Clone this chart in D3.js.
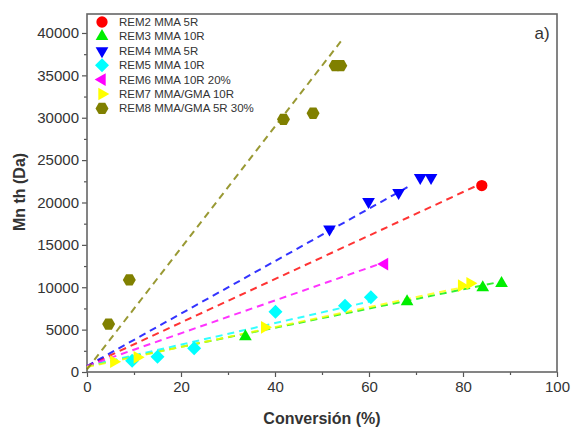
<!DOCTYPE html>
<html>
<head>
<meta charset="utf-8">
<script src="https://cdn.jsdelivr.net/npm/d3@7"></script>
<style>
  body { margin: 0; background: #fff; }
  text { font-family: "Liberation Sans", Arial, sans-serif; fill: #333; }
</style>
</head>
<body>
<svg id="chart" width="573" height="428"></svg>
<script>
// series names, colours
var names = ["REM2 MMA 5R", "REM3 MMA 10R", "REM4 MMA 5R", "REM5 MMA 10R",
  "REM6 MMA 10R 20%", "REM7 MMA/GMA 10R", "REM8 MMA/GMA 5R 30%"];
var colors = ["#ff0000", "#00ee00", "#0000ff", "#00ffff", "#ff00ff", "#ffff00", "#808000"];
var shapes = ["circle", "up", "down", "diamond", "left", "right", "hex"];

// measured points (conversion %, Mn th)
var rem2 = [[84, 22000]];
var rem3 = [[33.7, 4170], [68.1, 8300], [84.2, 9950], [88.2, 10460]];
var rem4 = [[51.6, 16840], [59.9, 20100], [66.3, 21160], [70.9, 22930], [73.2, 22930]];
var rem5 = [[9.6, 1330], [15.0, 1800], [22.8, 2790], [40.1, 7120], [54.9, 7830], [60.4, 8810]];
var rem6 = [[63.3, 12740]];
var rem7 = [[5.7, 1220], [10.7, 1730], [37.8, 5270], [79.7, 10190], [81.5, 10460]];
var rem8 = [[4.6, 5660], [9.0, 10860], [41.8, 29820], [48.1, 30530], [52.8, 36140], [54.0, 36140]];
var points = [rem2, rem3, rem4, rem5, rem6, rem7, rem8];

// linear fit lines: start and end
var fits = [
  [[0, 700], [83, 22000]],
  [[0, 700], [87, 10540]],
  [[0, 700], [69, 22060]],
  [[0, 700], [60, 8300]],
  [[0, 700], [62, 12700]],
  [[0, 600], [80, 10000]],
  [[0, 300], [54, 39000]]
];

var xTicks = [0, 20, 40, 60, 80, 100];
var yTicks = [0, 5000, 10000, 15000, 20000, 25000, 30000, 35000, 40000];

var svg = d3.select("#chart");
var mLeft = 87, mRight = 557, mTop = 14, mBottom = 372;

var x = d3.scaleLinear().domain([0, 100]).range([mLeft, mRight]);
var y = d3.scaleLinear().domain([0, 42240]).range([mBottom, mTop]);

// axes
var xAxis = svg.append("g").attr("transform", "translate(0," + mBottom + ")");
xAxis.call(d3.axisBottom(x).tickValues(d3.range(10, 100, 20)).tickSize(3).tickFormat(""));
xAxis.append("g").call(d3.axisBottom(x).tickValues(xTicks).tickSize(5).tickPadding(4));
var yAxis = svg.append("g").attr("transform", "translate(" + mLeft + ",0)");
yAxis.call(d3.axisLeft(y).tickValues(d3.range(2500, 42240, 5000)).tickSize(3).tickFormat(""));
yAxis.append("g").call(d3.axisLeft(y).tickValues(yTicks).tickSize(5).tickPadding(3).tickFormat(d3.format("d")));
svg.selectAll(".domain").remove();
svg.selectAll(".tick line").attr("stroke", "#555").attr("stroke-width", 1.2);
svg.selectAll(".tick text").style("font-size", "15px").attr("fill", "#333");

svg.append("rect").attr("x", mLeft).attr("y", mTop)
  .attr("width", mRight - mLeft).attr("height", mBottom - mTop)
  .attr("fill", "none").attr("stroke", "#666").attr("stroke-width", 1.6);

// fit lines
var line = d3.line().x(function(d) { return x(d[0]); }).y(function(d) { return y(d[1]); });
svg.append("g").selectAll("path").data(fits).enter().append("path")
  .attr("d", line)
  .attr("fill", "none")
  .attr("stroke", function(d, i) { return colors[i]; })
  .attr("stroke-width", 2)
  .attr("stroke-dasharray", "7,5")
  .attr("opacity", 0.8);

function marker(shape) {
  if (shape == "circle") return d3.symbol(d3.symbolCircle, 100)();
  if (shape == "diamond") return "M0,-7L7,0L0,7L-7,0Z";
  if (shape == "hex") {
    var p = d3.range(6).map(function(k) {
      var a = Math.PI / 3 * k;
      return [6.5 * Math.cos(a), 6.5 * Math.sin(a)];
    });
    return "M" + p.join("L") + "Z";
  }
  return d3.symbol(d3.symbolTriangle, 70)();
}
function rot(shape) {
  return { up: 0, down: 180, left: -90, right: 90 }[shape] || 0;
}

var groups = svg.append("g").selectAll("g").data(points).enter().append("g");
groups.selectAll("path").data(function(d, i) { return d.map(function(p) { return [p, i]; }); })
  .enter().append("path")
  .attr("d", function(d) { return marker(shapes[d[1]]); })
  .attr("transform", function(d) {
    return "translate(" + x(d[0][0]) + "," + y(d[0][1]) + ") rotate(" + rot(shapes[d[1]]) + ")";
  })
  .attr("fill", function(d) { return colors[d[1]]; });

// legend
var legend = svg.append("g").selectAll("g").data(names).enter().append("g")
  .attr("transform", function(d, i) { return "translate(102," + (22 + i * 14.4) + ")"; });
legend.append("path")
  .attr("d", function(d, i) { return marker(shapes[i]); })
  .attr("transform", function(d, i) { return "rotate(" + rot(shapes[i]) + ")"; })
  .attr("fill", function(d, i) { return colors[i]; });
legend.append("text").attr("x", 17).attr("y", 4)
  .style("font-size", "11.5px")
  .text(function(d) { return d; });

svg.append("text").attr("x", 542).attr("y", 39).attr("text-anchor", "middle")
  .style("font-size", "17px").attr("fill", "#222").text("a)");

svg.append("text").attr("x", (mLeft + mRight) / 2).attr("y", 424)
  .attr("text-anchor", "middle").style("font-size", "16px").style("font-weight", "bold")
  .attr("fill", "#111").text("Conversión (%)");
svg.append("text").attr("transform", "translate(25," + 192 + ") rotate(-90)")
  .attr("text-anchor", "middle").style("font-size", "16px").style("font-weight", "bold")
  .attr("fill", "#111").text("Mn th (Da)");
</script>
</body>
</html>
